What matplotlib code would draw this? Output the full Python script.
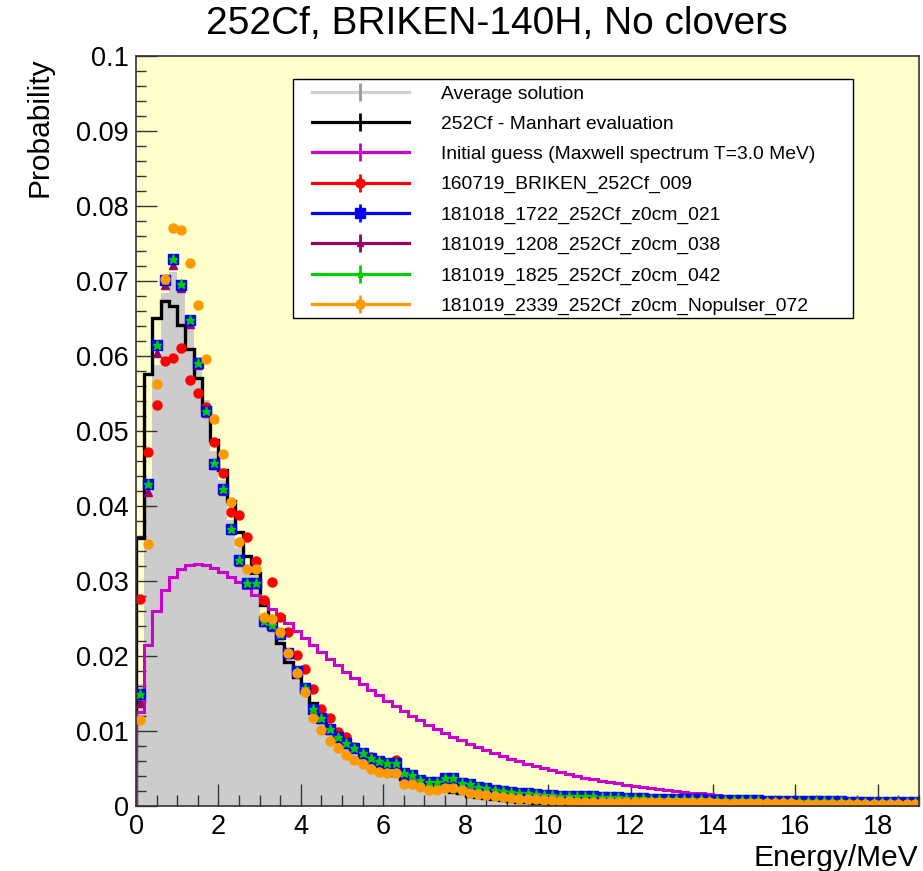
import numpy as np
import matplotlib
matplotlib.use("Agg")
import matplotlib.pyplot as plt
from matplotlib.lines import Line2D
from matplotlib.patches import Rectangle
from matplotlib.legend_handler import HandlerTuple
from matplotlib.ticker import MultipleLocator, FuncFormatter

plt.rcParams['font.family'] = ['Liberation Sans', 'DejaVu Sans']

# 95 bins of 0.2 MeV from 0 to 19 MeV
edges = np.round(np.arange(0, 19.01, 0.2), 1)
centers = edges[:-1] + 0.1

avg_solution = [
    0.0163, 0.0420, 0.0588, 0.0684, 0.0712, 0.0692, 0.0650, 0.0599, 0.0541, 0.0474,
    0.0435, 0.0381, 0.0344, 0.0313, 0.0307, 0.0253, 0.0254, 0.0235, 0.0209, 0.0184,
    0.0161, 0.0133, 0.0116, 0.0102, 0.0090, 0.0082, 0.0075, 0.0068, 0.0061, 0.0057,
    0.0054, 0.0055, 0.0040, 0.0038, 0.0033, 0.0030, 0.0030, 0.0034, 0.0034, 0.0029,
    0.0026, 0.0024, 0.0022, 0.0019, 0.0018, 0.0017, 0.0016, 0.0015, 0.0014, 0.0013,
    0.0013, 0.0012, 0.0012, 0, 0, 0, 0, 0, 0, 0,
    0, 0, 0, 0, 0, 0, 0, 0, 0, 0,
    0, 0, 0, 0, 0, 0, 0, 0, 0, 0,
    0, 0, 0, 0, 0, 0, 0, 0, 0, 0,
    0, 0, 0, 0, 0]

manhart = [
    0.0358, 0.0576, 0.0651, 0.0673, 0.0667, 0.0642, 0.0609, 0.0570, 0.0530, 0.0488,
    0.0448, 0.0407, 0.0366, 0.0333, 0.0311, 0.0268, 0.0239, 0.0217, 0.0192, 0.0172,
    0.0152, 0.0137, 0.0121, 0.0107, 0.0095, 0.0084, 0.0075, 0.0066, 0.0059, 0.0052,
    0.0046, 0.0041, 0.0036, 0.0032, 0.0028, 0.0025, 0.0023, 0.0021, 0.0019, 0.0017,
    0.0014, 0.0012, 0.0011, 0.0009, 0.0008, 0.0007, 0.0006, 0.0005, 0.0004, 0.0004,
    0.0003, 0.0002, 0.0002, 0, 0, 0, 0, 0, 0, 0,
    0, 0, 0, 0, 0, 0, 0, 0, 0, 0,
    0, 0, 0, 0, 0, 0, 0, 0, 0, 0,
    0, 0, 0, 0, 0, 0, 0, 0, 0, 0,
    0, 0, 0, 0, 0]

maxwell_guess = [
    0.01256, 0.02142, 0.02600, 0.02877, 0.03052, 0.03157, 0.03211, 0.03226, 0.03213, 0.03178,
    0.03125, 0.03060, 0.02984, 0.02901, 0.02813, 0.02721, 0.02626, 0.02530, 0.02434, 0.02337,
    0.02242, 0.02148, 0.02056, 0.01965, 0.01877, 0.01792, 0.01709, 0.01628, 0.01551, 0.01476,
    0.01404, 0.01335, 0.01268, 0.01205, 0.01144, 0.01085, 0.01030, 0.00976, 0.00925, 0.00877,
    0.00831, 0.00787, 0.00745, 0.00705, 0.00667, 0.00631, 0.00597, 0.00564, 0.00533, 0.00504,
    0.00476, 0.00450, 0.00425, 0.00401, 0.00379, 0.00358, 0.00338, 0.00319, 0.00301, 0.00284,
    0.00268, 0.00252, 0.00238, 0.00224, 0.00212, 0.00199, 0.00188, 0.00177, 0.00167, 0.00157,
    0.00148, 0.00140, 0.00132, 0.00124, 0.00117, 0.00110, 0.00104, 0.00097, 0.00092, 0.00086,
    0.00081, 0.00077, 0.00072, 0.00068, 0.00064, 0.00060, 0.00057, 0.00053, 0.00050, 0.00047,
    0.00044, 0.00042, 0.00039, 0.00037, 0.00035]

run_009 = [
    0.0276, 0.0472, 0.0534, 0.0593, 0.0597, 0.0611, 0.0568, 0.0551, 0.0532, 0.0486,
    0.0444, 0.0392, 0.0388, 0.0359, 0.0327, 0.0275, 0.0299, 0.0252, 0.0232, 0.0202,
    0.0183, 0.0156, 0.0129, 0.0117, 0.0099, 0.0092, 0.0079, 0.0071, 0.0066, 0.0059,
    0.0057, 0.0062, 0.0041, 0.0040, 0.0035, 0.0032, 0.0032, 0.0036, 0.0036, 0.0031,
    0.0028, 0.0025, 0.0023, 0.0020, 0.0019, 0.0018, 0.0017, 0.0016, 0.0015, 0.0014,
    0.0014, 0.0013, 0.0013, 0.0012, 0.0012, 0.0012, 0.0011, 0.0011, 0.0011, 0.0010,
    0.0010, 0.0010, 0.0009, 0.0009, 0.0009, 0.0008, 0.0008, 0.0008, 0.0008, 0.0007,
    0.0007, 0.0007, 0.0007, 0.0007, 0.0007, 0.0007, 0.0007, 0.0007, 0.0007, 0.0007,
    0.0006, 0.0006, 0.0006, 0.0006, 0.0006, 0.0006, 0.0006, 0.0006, 0.0006, 0.0006,
    0.0000, 0.0005, 0.0005, 0.0005, 0.0005]

run_021 = [
    0.0150, 0.0429, 0.0615, 0.0702, 0.0729, 0.0695, 0.0648, 0.0591, 0.0526, 0.0456,
    0.0422, 0.0370, 0.0328, 0.0298, 0.0298, 0.0247, 0.0241, 0.0230, 0.0204, 0.0180,
    0.0157, 0.0130, 0.0117, 0.0103, 0.0092, 0.0084, 0.0078, 0.0071, 0.0064, 0.0060,
    0.0057, 0.0057, 0.0044, 0.0041, 0.0035, 0.0032, 0.0032, 0.0037, 0.0037, 0.0031,
    0.0029, 0.0026, 0.0024, 0.0021, 0.0020, 0.0019, 0.0018, 0.0017, 0.0016, 0.0015,
    0.0015, 0.0014, 0.0014, 0.0013, 0.0013, 0.0013, 0.0012, 0.0012, 0.0012, 0.0011,
    0.0011, 0.0011, 0.0010, 0.0010, 0.0010, 0.0009, 0.0009, 0.0009, 0.0009, 0.0008,
    0.0008, 0.0008, 0.0008, 0.0008, 0.0008, 0.0008, 0.0007, 0.0007, 0.0007, 0.0007,
    0.0007, 0.0007, 0.0007, 0.0007, 0.0007, 0.0007, 0.0006, 0.0006, 0.0006, 0.0006,
    0.0006, 0.0006, 0.0006, 0.0006, 0.0006]

run_038 = [
    0.0137, 0.0419, 0.0604, 0.0695, 0.0721, 0.0690, 0.0643, 0.0588, 0.0524, 0.0454,
    0.0420, 0.0368, 0.0326, 0.0296, 0.0296, 0.0245, 0.0239, 0.0229, 0.0203, 0.0179,
    0.0156, 0.0129, 0.0116, 0.0102, 0.0091, 0.0083, 0.0077, 0.0070, 0.0063, 0.0059,
    0.0056, 0.0056, 0.0043, 0.0040, 0.0034, 0.0031, 0.0031, 0.0036, 0.0036, 0.0030,
    0.0028, 0.0025, 0.0023, 0.0020, 0.0019, 0.0018, 0.0017, 0.0016, 0.0015, 0.0014,
    0.0014, 0.0013, 0.0013, 0.0012, 0.0012, 0.0012, 0.0011, 0.0011, 0.0011, 0.0010,
    0.0010, 0.0010, 0.0009, 0.0009, 0.0009, 0.0008, 0.0008, 0.0008, 0.0008, 0.0007,
    0.0007, 0.0007, 0.0007, 0.0007, 0.0007, 0.0007, 0.0007, 0.0007, 0.0007, 0.0007,
    0.0006, 0.0006, 0.0006, 0.0006, 0.0006, 0.0006, 0.0006, 0.0006, 0.0006, 0.0006,
    0.0005, 0.0005, 0.0005, 0.0005, 0.0005]

run_042 = [
    0.0150, 0.0430, 0.0614, 0.0702, 0.0729, 0.0696, 0.0648, 0.0591, 0.0526, 0.0457,
    0.0422, 0.0370, 0.0328, 0.0298, 0.0298, 0.0247, 0.0241, 0.0230, 0.0204, 0.0180,
    0.0157, 0.0130, 0.0117, 0.0103, 0.0092, 0.0084, 0.0078, 0.0071, 0.0064, 0.0060,
    0.0057, 0.0057, 0.0044, 0.0041, 0.0035, 0.0032, 0.0032, 0.0037, 0.0037, 0.0031,
    0.0029, 0.0026, 0.0024, 0.0021, 0.0020, 0.0019, 0.0018, 0.0017, 0.0016, 0.0015,
    0.0015, 0.0014, 0.0014, 0.0013, 0.0013, 0.0013, 0.0012, 0.0012, 0.0012, 0.0011,
    0.0011, 0.0011, 0.0010, 0.0010, 0.0010, 0.0009, 0.0009, 0.0009, 0.0009, 0.0008,
    0.0008, 0.0008, 0.0008, 0.0008, 0.0008, 0.0008, 0.0007, 0.0007, 0.0007, 0.0007,
    0.0007, 0.0007, 0.0007, 0.0007, 0.0007, 0.0007, 0.0006, 0.0006, 0.0006, 0.0006,
    0.0006, 0.0006, 0.0006, 0.0006, 0.0006]

run_072 = [
    0.0115, 0.0349, 0.0562, 0.0703, 0.0771, 0.0768, 0.0724, 0.0668, 0.0596, 0.0516,
    0.0469, 0.0406, 0.0352, 0.0316, 0.0316, 0.0252, 0.0249, 0.0232, 0.0204, 0.0178,
    0.0152, 0.0118, 0.0101, 0.0087, 0.0077, 0.0068, 0.0061, 0.0056, 0.0049, 0.0046,
    0.0044, 0.0044, 0.0030, 0.0030, 0.0026, 0.0021, 0.0021, 0.0024, 0.0024, 0.0021,
    0.0018, 0.0016, 0.0015, 0.0013, 0.0012, 0.0011, 0.0010, 0.0009, 0.0009, 0.0008,
    0.0008, 0.0007, 0.0007, 0.0006, 0.0006, 0.0006, 0.0006, 0.0006, 0.0006, 0.0006,
    0.0006, 0.0006, 0.0006, 0.0006, 0.0006, 0.0005, 0.0005, 0.0005, 0.0005, 0.0005,
    0.0004, 0.0004, 0.0004, 0.0004, 0.0004, 0.0004, 0.0004, 0.0004, 0.0004, 0.0004,
    0.0003, 0.0003, 0.0003, 0.0003, 0.0003, 0.0003, 0.0003, 0.0003, 0.0003, 0.0003,
    0.0003, 0.0003, 0.0003, 0.0003, 0.0003]

labels = ["Average solution",
          "252Cf - Manhart evaluation",
          "Initial guess (Maxwell spectrum T=3.0 MeV)",
          "160719_BRIKEN_252Cf_009",
          "181018_1722_252Cf_z0cm_021",
          "181019_1208_252Cf_z0cm_038",
          "181019_1825_252Cf_z0cm_042",
          "181019_2339_252Cf_z0cm_Nopulser_072"]

c_gray = '#cccccc'
c_mag = '#cc00cc'
c_red = '#ff0000'
c_blue = '#0000ff'
c_purple = '#990066'
c_green = '#00cc00'
c_orange = '#ff9900'

W, H = 923, 871
fig = plt.figure(figsize=(W / 100, H / 100), dpi=100)
ax = fig.add_axes([136 / W, 65 / H, 783 / W, 750 / H])
ax.set_facecolor('#ffffcc')

ax.stairs(avg_solution, edges, fill=True, color=c_gray, lw=0, zorder=1)
ax.stairs(manhart, edges, color='black', lw=2.4, zorder=2)
ax.stairs(maxwell_guess, edges, color=c_mag, lw=2.2, zorder=2)

ax.plot(centers, run_009, 'o', color=c_red, ms=6.5, zorder=3)
ax.plot(centers, run_038, '^', color=c_purple, ms=6, zorder=4)
ax.plot(centers, run_021, 's', color=c_blue, ms=6.8, zorder=5)
ax.plot(centers, run_042, '*', color=c_green, ms=6.5, zorder=6)
ax.plot(centers, run_072, 'o', color=c_orange, ms=6.5, zorder=7)

ax.set_xlim(0, 19)
ax.set_ylim(0, 0.1)
ax.xaxis.set_major_locator(MultipleLocator(2))
ax.xaxis.set_minor_locator(MultipleLocator(0.5))
ax.yaxis.set_major_locator(MultipleLocator(0.01))
ax.yaxis.set_minor_locator(MultipleLocator(0.002))
ax.yaxis.set_major_formatter(FuncFormatter(lambda v, p: '%g' % round(v, 3)))
ax.xaxis.set_major_formatter(FuncFormatter(lambda v, p: '%g' % round(v, 1)))
ax.tick_params(which='both', direction='in', top=False, right=False,
               width=1, color='#333333', labelsize=19.5)
ax.tick_params(axis='x', which='major', length=16, pad=6)
ax.tick_params(axis='x', which='minor', length=8)
ax.tick_params(axis='y', which='major', length=15, pad=5)
ax.tick_params(axis='y', which='minor', length=7)
for sp in ax.spines.values():
    sp.set_linewidth(1.2)
    sp.set_color('#333333')
    sp.set_zorder(8)

fig.text(497 / W, 1 - 24 / H, '252Cf, BRIKEN-140H, No clovers',
         ha='center', va='center', fontsize=28)
fig.text(40 / W, 1 - 57 / H, 'Probability', rotation=90,
         ha='center', va='top', fontsize=21.5)
fig.text(918 / W, 1 - 858 / H, 'Energy/MeV', ha='right', va='center',
         fontsize=21.5)

# legend box drawn separately, entries placed inside it
box = Rectangle(((293 - 136) / 783, (806 - 318) / 750),
                (853 - 293) / 783, (318 - 79) / 750,
                transform=ax.transAxes, facecolor='white',
                edgecolor='black', lw=1, zorder=10)
ax.add_patch(box)


def entry(color, marker=None, ms=6.5, tick_color=None):
    line = Line2D([], [], color=color, lw=2.3, marker='|', ms=13,
                  mew=2, mec=tick_color or color)
    if marker is None:
        return line
    pt = Line2D([], [], ls='none', marker=marker, color=color, ms=ms)
    return (line, pt)


handles = [entry('#d0d0d0', tick_color='#999999'),
           entry('black'),
           entry(c_mag),
           entry(c_red, 'o'),
           entry(c_blue, 's', 7),
           entry(c_purple, '^', 5),
           entry(c_green, '*', 5),
           entry(c_orange, 'o')]

leg = ax.legend(handles, labels, loc='upper left',
                bbox_to_anchor=(312 / W, 1 - 85 / H),
                bbox_transform=fig.transFigure, frameon=False,
                borderpad=0, borderaxespad=0, handlelength=5.0,
                handletextpad=1.66, labelspacing=0.66, fontsize=13.9,
                handler_map={tuple: HandlerTuple(ndivide=1, pad=0)})
leg.set_zorder(11)

fig.savefig('out.png', dpi=100)
